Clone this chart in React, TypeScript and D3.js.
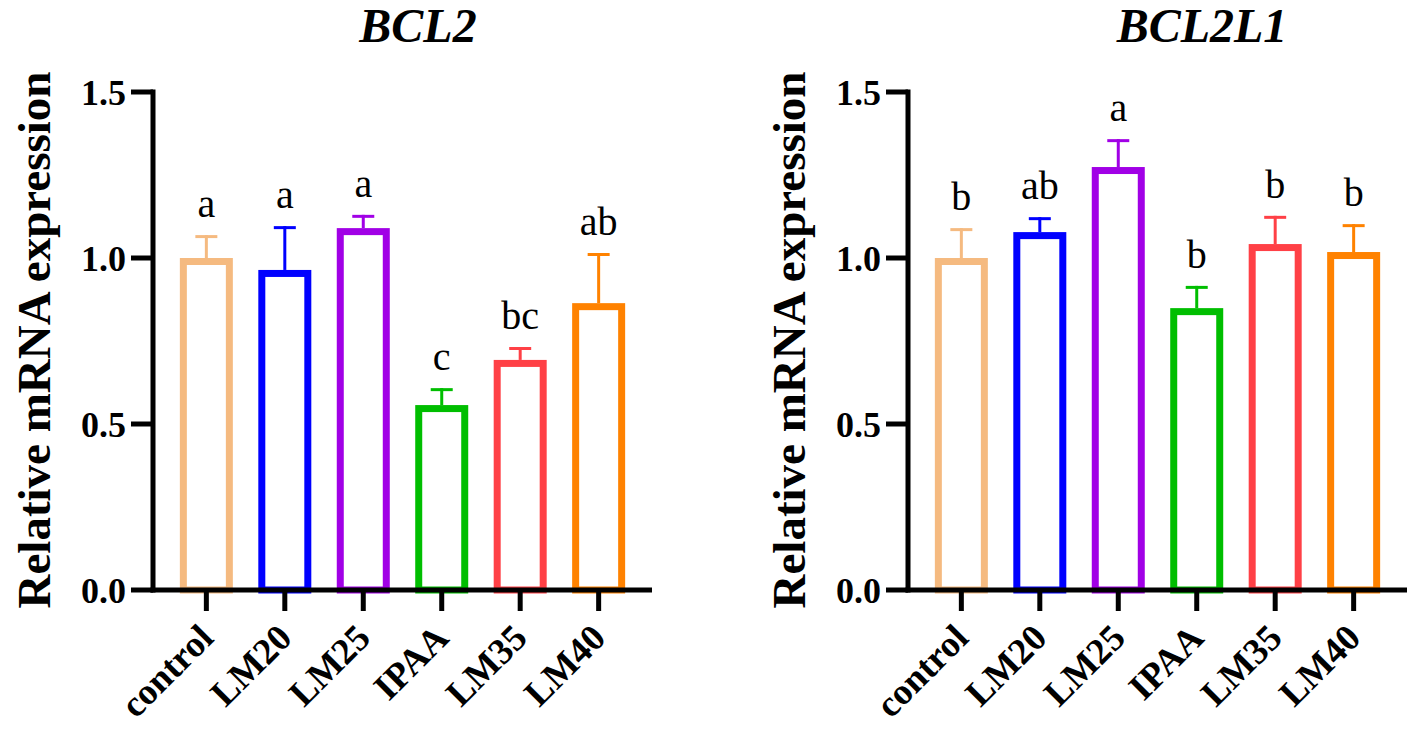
import React from 'react';
import * as d3 from 'd3';

const groups = ['control', 'LM20', 'LM25', 'IPAA', 'LM35', 'LM40'];
const colors = ['#F5BA80', '#0000FF', '#A100E6', '#00BE00', '#FF4046', '#FF8200'];
const yTicks = [0, 0.5, 1.0, 1.5];

const bcl2Mean = [1.0, 0.964, 1.09, 0.557, 0.693, 0.864];
const bcl2Err = [1.069, 1.096, 1.13, 0.608, 0.732, 1.015];
const bcl2Letters = ['a', 'a', 'a', 'c', 'bc', 'ab'];

const bcl2l1Mean = [1.0, 1.078, 1.274, 0.849, 1.042, 1.018];
const bcl2l1Err = [1.09, 1.123, 1.358, 0.916, 1.127, 1.102];
const bcl2l1Letters = ['b', 'ab', 'a', 'b', 'b', 'b'];

const serif = '"Liberation Serif", "Times New Roman", serif';

interface PanelProps {
    title: string;
    mean: number[];
    err: number[];
    letters: string[];
    left: number;
    titleX: number;
}

const Panel: React.FC<PanelProps> = ({ title, mean, err, letters, left, titleX }) => {
    const axisX = left;
    const axisEnd = left + 499;
    const y = d3.scaleLinear().domain([0, 1.5]).range([590, 92]);
    const x = d3.scalePoint<string>().domain(groups).range([axisX, axisEnd]).padding(0.68);
    const barW = 46;
    const sw = 7;

    return (
        <g>
            <text x={titleX} y={42} textAnchor="middle" fontFamily={serif} fontWeight="bold"
                fontStyle="italic" fontSize={48}>{title}</text>
            <text transform={`translate(${left - 103},${340}) rotate(-90)`} textAnchor="middle"
                fontFamily={serif} fontWeight="bold" fontSize={47}>Relative mRNA expression</text>

            {groups.map((g, i) => {
                const cx = x(g)!;
                const top = y(mean[i]) + sw / 2;
                return (
                    <g key={g}>
                        <line x1={cx} x2={cx} y1={y(mean[i])} y2={y(err[i])} stroke={colors[i]} strokeWidth={3} />
                        <line x1={cx - 11} x2={cx + 11} y1={y(err[i]) + 1.5} y2={y(err[i]) + 1.5}
                            stroke={colors[i]} strokeWidth={3} />
                        <rect x={cx - barW / 2} y={top} width={barW} height={y(0) - top}
                            fill="none" stroke={colors[i]} strokeWidth={sw} />
                        <text x={cx} y={y(err[i]) - 18} textAnchor="middle" fontFamily={serif}
                            fontSize={40}>{letters[i]}</text>
                    </g>
                );
            })}

            {/* y axis */}
            <line x1={axisX} x2={axisX} y1={y(1.5) - 2.5} y2={y(0) + 2.5} stroke="#000" strokeWidth={5} />
            {yTicks.map(t => (
                <g key={t}>
                    <line x1={axisX - 22} x2={axisX} y1={y(t)} y2={y(t)} stroke="#000" strokeWidth={5} />
                    <text x={axisX - 27} y={y(t)} dy="0.35em" textAnchor="end" fontFamily={serif}
                        fontWeight="bold" fontSize={36}>{t.toFixed(1)}</text>
                </g>
            ))}

            {/* x axis */}
            <line x1={axisX - 2.5} x2={axisEnd} y1={y(0)} y2={y(0)} stroke="#000" strokeWidth={5} />
            {groups.map(g => (
                <g key={g}>
                    <line x1={x(g)} x2={x(g)} y1={y(0)} y2={y(0) + 21} stroke="#000" strokeWidth={5} />
                    <text transform={`translate(${x(g)! + 9},${640}) rotate(-45)`} textAnchor="end"
                        fontFamily={serif} fontWeight="bold" fontSize={37}>{g}</text>
                </g>
            ))}
        </g>
    );
};

export default function App() {
    return (
        <svg width={1417} height={731} style={{ position: 'absolute', left: 0, top: 0, background: '#fff' }}>
            <rect width={1417} height={731} fill="#fff" />
            <Panel title="BCL2" mean={bcl2Mean} err={bcl2Err} letters={bcl2Letters} left={153} titleX={418} />
            <Panel title="BCL2L1" mean={bcl2l1Mean} err={bcl2l1Err} letters={bcl2l1Letters} left={908} titleX={1202} />
        </svg>
    );
}
